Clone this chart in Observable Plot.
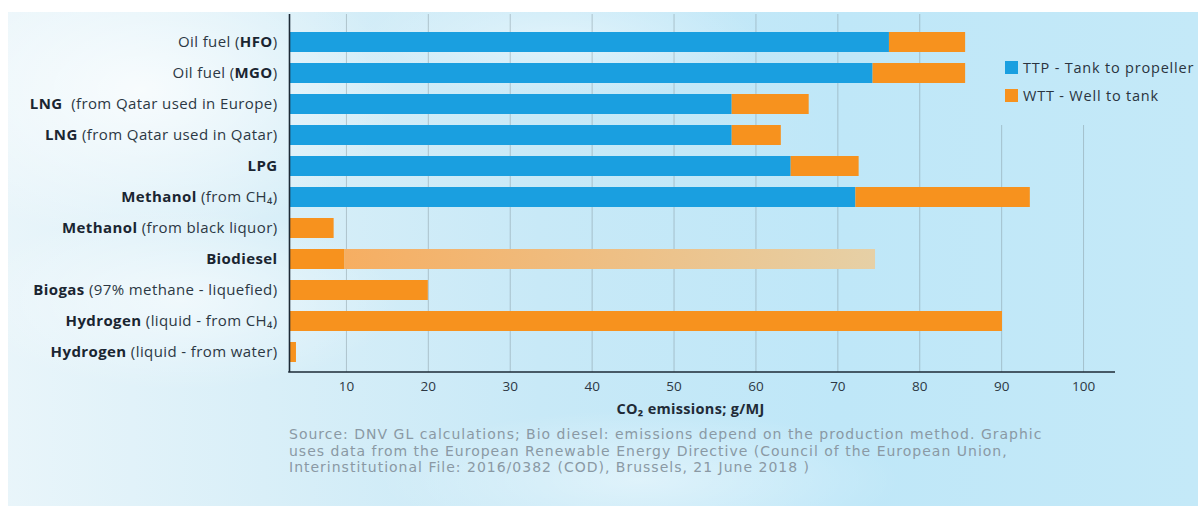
<!DOCTYPE html>
<html><head><meta charset="utf-8">
<script src="https://cdn.jsdelivr.net/npm/d3@7"></script>
<script src="https://cdn.jsdelivr.net/npm/@observablehq/plot@0.6"></script>
<style>
html,body{margin:0;padding:0;background:#fff;}
#wrap{position:relative;width:1198px;height:506px;overflow:hidden;font-family:"Open Sans",sans-serif;}
.sky{
  background:
    radial-gradient(ellipse 260px 150px at 140px 90px, rgba(255,255,255,0.75), rgba(255,255,255,0)),
    radial-gradient(ellipse 220px 90px at 180px 300px, rgba(255,255,255,0.55), rgba(255,255,255,0)),
    radial-gradient(ellipse 260px 70px at 640px 480px, rgba(255,255,255,0.45), rgba(255,255,255,0)),
    radial-gradient(ellipse 200px 60px at 560px 40px, rgba(255,255,255,0.45), rgba(255,255,255,0)),
    linear-gradient(90deg,#e9f5fa 0%,#d9eff8 22%,#c8e9f7 45%,#bfe7f8 70%,#c4e9f8 100%);
  background-attachment: fixed;
}
#bg{position:absolute;left:8px;top:12px;right:0;bottom:0;}
#chart{position:absolute;left:0;top:0;}
#legend{position:absolute;left:985px;top:12px;width:213px;height:113px;}
.item{position:absolute;left:20px;height:19px;font-size:14.5px;letter-spacing:0.8px;color:#2a3440;white-space:nowrap;display:flex;align-items:center;}
.sw{width:13px;height:13px;margin-right:5px;flex:none;}
#caption{position:absolute;left:289px;top:426px;font-family:"DejaVu Sans",sans-serif;font-size:14px;line-height:16.5px;letter-spacing:1px;color:#8a99a4;white-space:nowrap;}
#caption div{height:16.5px;}
</style>
</head>
<body>
<div id="wrap">
  <div id="bg" class="sky"></div>
  <div id="chart"></div>
  <div id="legend" class="sky"></div>
  <div id="caption"></div>
</div>
<script>
// ---- data ----
const labelPre  = ["Oil fuel (", "Oil fuel (", "", "", "", "", "", "", "", "", ""];
const labelBold = ["HFO", "MGO", "LNG", "LNG", "LPG", "Methanol", "Methanol", "Biodiesel", "Biogas", "Hydrogen", "Hydrogen"];
const labelPost = [")", ")", "  (from Qatar used in Europe)", " (from Qatar used in Qatar)", "", " (from CH₄)", " (from black liquor)", "", " (97% methane - liquefied)", " (liquid - from CH₄)", " (liquid - from water)"];
const categories = labelBold.map((b, i) => labelPre[i] + b + labelPost[i]);

const ttp = [76.3, 74.3, 57.1, 57.1, 64.3, 72.2, 0, 0, 0, 0, 0];      // TTP - Tank to propeller
const wtt = [9.3, 11.3, 9.4, 6.0, 8.3, 21.3, 8.5, 9.8, 20.0, 90.1, 3.9]; // WTT - Well to tank
const biodieselRangeCategory = "Biodiesel";
const biodieselRange = [9.8, 74.6]; // production-method dependent range

const seriesNames = ["TTP - Tank to propeller", "WTT - Well to tank"];
const seriesColors = ["#1a9fe0", "#f7921e"];
const xTicks = [10, 20, 30, 40, 50, 60, 70, 80, 90, 100];
const xDomain = [3.05, 103.9];
const xLabel = "CO₂ emissions; g/MJ";
const captionLines = [
  "Source: DNV GL calculations; Bio diesel: emissions depend on the production method. Graphic",
  "uses data from the European Renewable Energy Directive (Council of the European Union,",
  "Interinstitutional File: 2016/0382 (COD), Brussels, 21 June 2018 )"
];

// ---- table ----
const rows = categories.flatMap((c, i) => [
  {cat: c, series: seriesNames[0], x1: 0, x2: ttp[i]},
  {cat: c, series: seriesNames[1], x1: ttp[i], x2: ttp[i] + wtt[i]}
]).filter(d => d.x2 > d.x1);
const rangeRows = [{cat: biodieselRangeCategory, x1: biodieselRange[0], x2: biodieselRange[1]}];

const W = 1198, H = 422, mB = 50;
const plot = Plot.plot({
  width: W, height: H,
  marginLeft: 289, marginRight: 83, marginTop: 14, marginBottom: mB,
  style: {background: "transparent", fontFamily: "'Open Sans', sans-serif", fontSize: "15px", color: "#1f2b37"},
  x: {domain: xDomain, clamp: true},
  y: {domain: categories, range: [30.5, 362.9], paddingInner: 0.36, paddingOuter: 0},
  color: {domain: seriesNames, range: seriesColors},
  marks: [
    Plot.ruleX(xTicks, {stroke: "#7f8d97", strokeOpacity: 0.45, strokeWidth: 1}),
    Plot.barX(rangeRows, {x1: "x1", x2: "x2", y: "cat", fill: "url(#biofade)"}),
    Plot.barX(rows, {x1: "x1", x2: "x2", y: "cat", fill: "series"}),
    Plot.ruleX([xDomain[0]], {stroke: "#1d2a36", strokeWidth: 1.6}),
    Plot.axisY({tickSize: 0, tickPadding: 12, label: null, fontSize: 15, fill: "#2c3844"}),
    Plot.axisX({ticks: xTicks, tickSize: 0, tickPadding: 9, label: null, fontSize: 13.5, fill: "#2c3844"}),
    Plot.text([xLabel], {frameAnchor: "bottom", dy: 41, dx: -12, fontWeight: "bold", fontSize: 14.5, fill: "#1f2b37"})
  ]
});

// gradient for biodiesel range
const svg = d3.select(plot);
const defs = svg.insert("defs", ":first-child");
const g = defs.append("linearGradient").attr("id", "biofade").attr("x1", "0").attr("x2", "1").attr("y1", "0").attr("y2", "0");
g.append("stop").attr("offset", "0%").attr("stop-color", "#f6ae62");
g.append("stop").attr("offset", "100%").attr("stop-color", "#e6d0a6");

// bottom axis line via x scale
const sx = plot.scale("x");
svg.append("line")
  .attr("x1", sx.apply(xDomain[0]) - 0.8).attr("x2", sx.apply(xDomain[1]))
  .attr("y1", H - mB).attr("y2", H - mB)
  .attr("stroke", "#1d2a36").attr("stroke-width", 1.6);

// rich y labels (bold parts)
svg.selectAll('g[aria-label="y-axis tick label"] text').each(function() {
  const t = this.textContent;
  const i = categories.indexOf(t);
  if (i < 0) return;
  const el = d3.select(this);
  el.text(null).attr("xml:space", "preserve").attr("letter-spacing", "0.4");
  if (labelPre[i]) el.append("tspan").text(labelPre[i]);
  el.append("tspan").attr("font-weight", "bold").attr("fill", "#1a2531").text(labelBold[i]);
  if (labelPost[i]) el.append("tspan").text(labelPost[i]);
});
svg.selectAll('g[aria-label="text"] text').attr("letter-spacing", "0.3");

document.getElementById("chart").appendChild(plot);

// legend
const leg = document.getElementById("legend");
seriesNames.forEach((s, i) => {
  const it = document.createElement("div");
  it.className = "item";
  it.style.top = (i === 0 ? 46 : 74) + "px";
  const sw = document.createElement("span");
  sw.className = "sw"; sw.style.background = seriesColors[i];
  it.appendChild(sw);
  it.appendChild(document.createTextNode(s));
  leg.appendChild(it);
});

// caption
const cap = document.getElementById("caption");
captionLines.forEach(l => { const d = document.createElement("div"); d.textContent = l; cap.appendChild(d); });
</script>
</body></html>
